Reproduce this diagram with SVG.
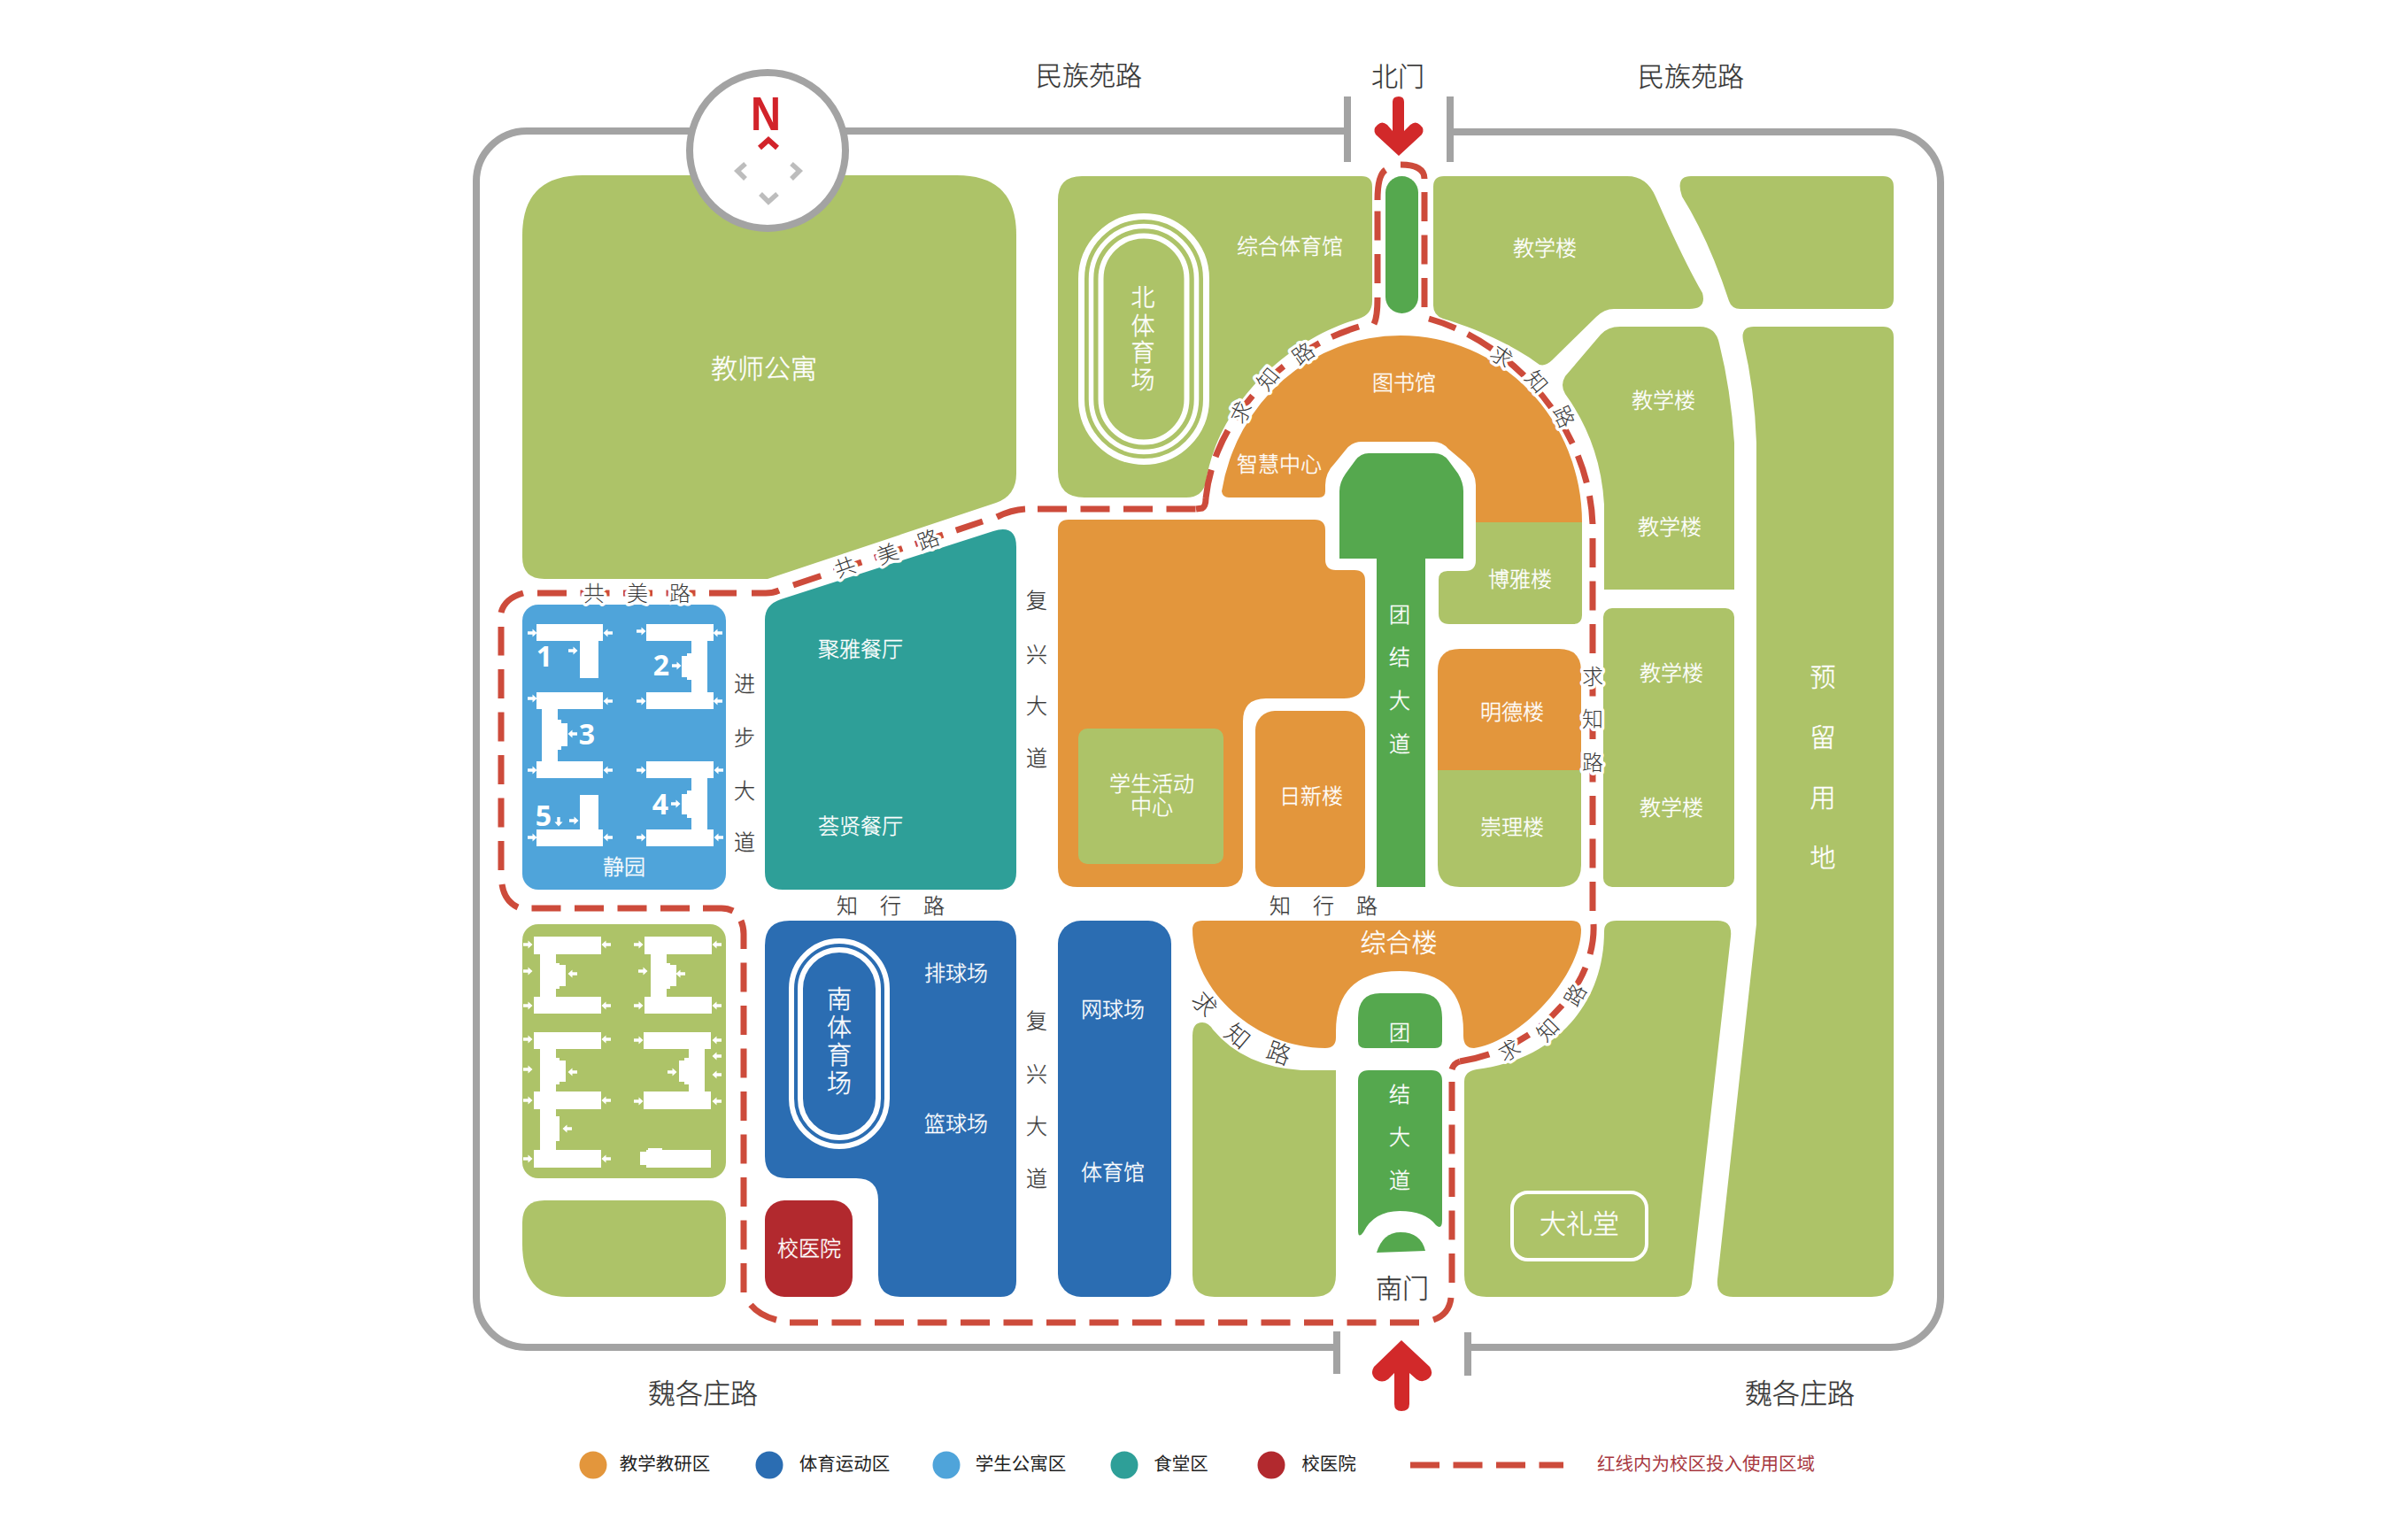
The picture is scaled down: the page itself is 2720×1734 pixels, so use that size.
<svg xmlns="http://www.w3.org/2000/svg" xmlns:xlink="http://www.w3.org/1999/xlink" width="2720" height="1734" viewBox="0 0 2720 1734">
<style>
text{font-family:"Noto Sans CJK SC","Noto Sans",sans-serif;font-weight:300;text-anchor:middle;dominant-baseline:central}
.g{fill:#adc368}.o{fill:#e3963c}.b{fill:#2b6db2}.lb{fill:#4fa4da}.t{fill:#2e9f98}.dg{fill:#55a84e}.r{fill:#b2292e}.w{fill:#fff}
.l{fill:#fff;font-size:24px;stroke:#fff;stroke-width:.35px}.xl{fill:#fff;font-size:29px;stroke:#fff;stroke-width:.35px}
.road{fill:#3a3a3a;font-size:24px;stroke:#3a3a3a;stroke-width:.25px}.halo{fill:#3a3a3a;font-size:24px;paint-order:stroke;stroke:#fff;stroke-width:7px;stroke-linejoin:round}
.big{fill:#333;font-size:30px;stroke:#333;stroke-width:.25px}
.leg{fill:#222;font-size:20.5px;font-weight:400}
.num{fill:#fff;font-family:"Noto Sans",sans-serif;font-weight:700;font-size:32px}
.frame{fill:none;stroke:#a3a3a3;stroke-width:8}
.tick{stroke:#a3a3a3;stroke-width:8;fill:none}
.route,.routes{fill:none;stroke:#cd4b3b;stroke-width:7}
.route{stroke-dasharray:33 15.5}
.ring{fill:none;stroke:#fff}
.chev{fill:none;stroke:#bdbdbd;stroke-width:5.5}
</style>
<defs>
<path id="ar" class="w" d="M-5-1.7H.5V-4.6L5.5 0 .5 4.6V1.7H-5Z"/>
<path id="al" class="w" d="M5-1.7H-.5V-4.6L-5.5 0-.5 4.6V1.7H5Z"/>
<path id="ad" class="w" d="M-1.7-5V.5H-4.6L0 5.5 4.6.5H1.7V-5Z"/>
</defs>
<rect width="2720" height="1734" fill="#fff"/>
<g id="frame">
<path class="frame" d="M1522 148H595A57 57 0 0 0 538 205V1465A57 57 0 0 0 595 1522H1510"/>
<path class="frame" d="M1658 1522H2135A57 57 0 0 0 2192 1465V206A57 57 0 0 0 2135 149H1638"/>
<path class="tick" d="M1522 109V183M1638 109V183M1510 1504V1552M1658 1505V1554"/>
</g>
<g id="teacher-apartments"><path class="g" d="M658 198H1081Q1148 198 1148 265V535Q1148 560 1125 568L867 654H615Q590 654 590 629V266Q590 198 658 198Z"/><text class="l" style="font-size:30px" x="863" y="414">教师公寓</text></g>
<g id="north-gym"><path class="g" d="M1222 199H1538Q1550 199 1550 211V340Q1550 355 1535 360C1450 385 1375 460 1362 545Q1358 562 1340 562H1225Q1195 562 1195 532V226Q1195 199 1222 199Z"/>
<rect class="ring" stroke-width="7" x="1221.5" y="244.5" width="141" height="277" rx="70.5"/><rect class="ring" stroke-width="5.5" x="1232.5" y="255.5" width="119" height="255" rx="59.5"/><rect class="ring" stroke-width="6" x="1243.5" y="266.5" width="97" height="233" rx="48.5"/>
<text class="l" style="font-size:27px" x="1291" y="334">北</text><text class="l" style="font-size:27px" x="1291" y="366">体</text><text class="l" style="font-size:27px" x="1291" y="396">育</text><text class="l" style="font-size:27px" x="1291" y="427">场</text>
<text class="l" x="1457" y="276">综合体育馆</text></g>
<g id="north-pill"><rect class="dg" x="1565" y="199" width="37" height="155" rx="18.5"/></g>
<g id="library"><path class="o" d="M1380 555Q1381 562 1388 562H1490Q1497 562 1497 555V548Q1497 534 1508 523L1521 507Q1528 499 1538 499H1619Q1629 499 1636 507L1655 523Q1667 534 1667 548V590H1787A205 211 0 0 0 1582 379A205 211 0 0 0 1380 555Z"/><text class="l" x="1586" y="430">图书馆</text><text class="l" x="1445" y="522">智慧中心</text></g>
<g id="boya"><path class="g" d="M1667 590H1787V695Q1787 705 1777 705H1637Q1625 705 1625 693V655Q1625 645 1635 645H1655Q1667 645 1667 633Z"/><text class="l" x="1717" y="652">博雅楼</text></g>
<g id="mingde"><path class="o" d="M1649 733H1761Q1786 733 1786 758V870H1624V758Q1624 733 1649 733Z"/><text class="l" x="1708" y="802">明德楼</text></g>
<g id="chongli"><path class="g" d="M1624 870H1786V977Q1786 1002 1761 1002H1649Q1624 1002 1624 977Z"/><text class="l" x="1708" y="932">崇理楼</text></g>
<g id="north-avenue"><path class="dg" d="M1555 1002V631H1513V555Q1513 545 1520 535L1531 520Q1537 512 1546 512H1620Q1630 512 1636 520L1647 535Q1653 545 1653 555V631H1610V1002Z"/><text class="l" x="1581" y="692">团</text><text class="l" x="1581" y="740">结</text><text class="l" x="1581" y="789">大</text><text class="l" x="1581" y="838">道</text></g>
<g id="teach-1"><path class="g" d="M1631 199H1838Q1860 199 1870 222Q1902 295 1923 331Q1928 349 1908 349H1823Q1812 349 1803 358L1753 407Q1746 414 1739 412C1710 390 1665 370 1630 360Q1619 356 1619 345V211Q1619 199 1631 199Z"/><text class="l" x="1745" y="278">教学楼</text></g>
<g id="field-ne"><path class="g" d="M1910 199H2127Q2139 199 2139 211V337Q2139 349 2127 349H1966Q1956 349 1953 340Q1930 270 1900 222Q1892 199 1910 199Z"/></g>
<g id="teach-2"><path class="g" d="M1830 369H1920Q1938 369 1942 388Q1955 440 1959 500V666H1812V570Q1808 500 1768 445Q1762 435 1768 425L1808 378Q1816 369 1830 369Z"/><text class="l" x="1879" y="450">教学楼</text><text class="l" x="1886" y="593">教学楼</text></g>
<g id="teach-3"><rect class="g" x="1811" y="687" width="148" height="315" rx="10"/><text class="l" x="1888" y="758">教学楼</text><text class="l" x="1888" y="910">教学楼</text></g>
<g id="reserve"><path class="g" d="M1981 369H2127Q2139 369 2139 381V1440Q2139 1465 2114 1465H1958Q1938 1465 1940 1445L1984 1044V500Q1982 440 1969 385Q1966 369 1981 369Z"/><text class="xl" x="2059" y="763">预</text><text class="xl" x="2059" y="831">留</text><text class="xl" x="2059" y="899">用</text><text class="xl" x="2059" y="967">地</text></g>
<g id="orange-main"><path class="o" d="M1207 587H1485Q1497 587 1497 599V632Q1497 644 1509 644H1530Q1542 644 1542 656V765Q1542 789 1518 789H1430Q1404 789 1404 815V980Q1404 1002 1382 1002H1217Q1195 1002 1195 980V599Q1195 587 1207 587Z"/></g>
<g id="student-center"><rect class="g" x="1218" y="823" width="164" height="153" rx="10"/><text class="l" x="1301" y="883">学生活动</text><text class="l" x="1301" y="909">中心</text></g>
<g id="rixin"><rect class="o" x="1418" y="803" width="124" height="199" rx="22"/><text class="l" x="1481" y="897">日新楼</text></g>
<g id="composite"><path class="o" d="M1358 1040H1775Q1786 1040 1786 1050C1786 1100 1720 1176 1665 1184Q1653 1184 1653 1170V1165Q1653 1097 1581 1097Q1509 1097 1509 1165V1172Q1509 1184 1497 1184C1420 1184 1347 1120 1347 1050Q1347 1040 1358 1040Z"/><text class="xl" x="1580" y="1063">综合楼</text></g>
<g id="south-avenue-1"><path class="dg" d="M1559 1122H1604Q1629 1122 1629 1150V1176Q1629 1184 1621 1184H1542Q1534 1184 1534 1176V1150Q1534 1122 1559 1122Z"/><text class="l" x="1581" y="1164">团</text></g>
<g id="south-avenue-2"><path class="dg" d="M1546 1209H1617Q1629 1209 1629 1221V1378Q1629 1390 1622 1384Q1610 1368 1581 1368Q1552 1368 1540 1392Q1534 1400 1534 1390V1221Q1534 1209 1546 1209Z"/><text class="l" x="1581" y="1234">结</text><text class="l" x="1581" y="1282">大</text><text class="l" x="1581" y="1331">道</text></g>
<g id="south-dome"><path class="dg" d="M1555 1415Q1562 1392 1582 1392Q1605 1392 1610 1413Z"/></g>
<g id="field-sw"><path class="g" d="M1347 1170Q1347 1155 1358 1155Q1365 1155 1370 1163Q1405 1205 1470 1209H1509V1440Q1509 1465 1484 1465H1372Q1347 1465 1347 1440Z"/></g>
<g id="auditorium"><path class="g" d="M1826 1040H1940Q1957 1040 1955 1058L1911 1450Q1909 1465 1892 1465H1679Q1654 1465 1654 1440V1222Q1654 1210 1668 1208C1750 1198 1812 1140 1812 1052Q1812 1040 1826 1040Z"/><rect x="1708" y="1347" width="152" height="76" rx="18" fill="none" stroke="#fff" stroke-width="4"/><text class="l" style="font-size:30px" x="1784" y="1380">大礼堂</text></g>
<g id="tennis"><rect class="b" x="1195" y="1040" width="128" height="425" rx="26"/><text class="l" x="1257" y="1138">网球场</text><text class="l" x="1257" y="1322">体育馆</text></g>
<g id="south-sports"><path class="b" d="M892 1040H1126Q1148 1040 1148 1062V1447Q1148 1465 1130 1465H1017Q992 1465 992 1440V1356Q992 1331 967 1331H889Q864 1331 864 1306V1068Q864 1040 892 1040Z"/>
<rect class="ring" stroke-width="6" x="894" y="1063" width="108" height="232" rx="54"/><rect class="ring" stroke-width="6" x="904" y="1073" width="88" height="212" rx="44"/>
<text class="l" style="font-size:28px" x="948" y="1127">南</text><text class="l" style="font-size:28px" x="948" y="1159">体</text><text class="l" style="font-size:28px" x="948" y="1190">育</text><text class="l" style="font-size:28px" x="948" y="1222">场</text>
<text class="l" x="1080" y="1097">排球场</text><text class="l" x="1080" y="1267">篮球场</text></g>
<g id="clinic"><rect class="r" x="864" y="1356" width="99" height="109" rx="22"/><text class="l" x="914" y="1408">校医院</text></g>
<g id="canteen"><path class="t" d="M864 700Q864 683 882 677L1122 600Q1148 592 1148 618V985Q1148 1005 1128 1005H884Q864 1005 864 985Z"/><text class="l" x="972" y="731">聚雅餐厅</text><text class="l" x="972" y="931">荟贤餐厅</text></g>
<g id="dorm-blue"><rect class="lb" x="590" y="683" width="230" height="322" rx="18"/>
<path class="w" d="M606 705H681V724H676V766H655V724H606Z"/>
<path class="w" d="M730 705H806V724H799V782H806V801H730V782H781V768H776V765H770V741H776V738H781V724H730Z"/>
<path class="w" d="M606 782H681V801H630V813H634V817H641V843H634V847H630V860H681V879H606V860H612V801H606Z"/>
<path class="w" d="M730 860H806V879H799V937H806V956H730V937H781V924H776V920H770V897H776V893H781V879H730Z"/>
<path class="w" d="M655 898H676V937H681V956H606V937H655Z"/>
<g><use href="#ar" x="601" y="715"/><use href="#ar" x="601" y="789"/><use href="#ar" x="601" y="870"/><use href="#ar" x="601" y="946"/><use href="#ar" x="647" y="735"/><use href="#ar" x="724" y="713"/><use href="#ar" x="724" y="792"/><use href="#ar" x="724" y="870"/><use href="#ar" x="724" y="946"/><use href="#ar" x="764" y="752"/><use href="#ar" x="763" y="908"/><use href="#ar" x="648" y="927"/><use href="#al" x="687" y="715"/><use href="#al" x="687" y="792"/><use href="#al" x="687" y="870"/><use href="#al" x="687" y="946"/><use href="#al" x="811" y="715"/><use href="#al" x="811" y="792"/><use href="#al" x="812" y="870"/><use href="#al" x="812" y="946"/><use href="#al" x="647" y="829"/><use href="#ad" x="631" y="928"/></g>
<text class="num" x="615" y="740">1</text><text class="num" x="747" y="750">2</text><text class="num" x="663" y="828">3</text><text class="num" x="746" y="907">4</text><text class="num" x="614" y="920">5</text>
<text class="l" x="705" y="977">静园</text></g>
<g id="dorm-green"><rect class="g" x="590" y="1044" width="230" height="287" rx="18"/>
<path class="w" d="M603 1058H679V1078H628V1088H632V1090H639V1114H632V1117H628V1126H679V1145H603V1126H610V1078H603Z"/>
<path class="w" d="M728 1058H804V1078H753V1088H757V1090H764V1114H757V1117H753V1126H804V1145H728V1126H735V1078H728Z"/>
<path class="w" d="M603 1166H679V1185H628V1195H632V1198H639V1222H632V1225H628V1233H679V1253H628V1261H632V1289H628V1299H679V1319H603V1299H610V1253H603V1233H610V1185H603Z"/>
<path class="w" d="M727 1166H803V1185H796V1233H803V1253H727V1233H778V1225H773V1222H767V1198H773V1195H778V1185H727Z"/>
<path class="w" d="M730 1299H732V1297H748V1299H803V1319H730V1316H723V1301H730Z"/>
<g><use href="#ar" x="596" y="1067"/><use href="#ar" x="596" y="1097"/><use href="#ar" x="596" y="1136"/><use href="#ar" x="596" y="1174"/><use href="#ar" x="596" y="1208"/><use href="#ar" x="596" y="1243"/><use href="#ar" x="596" y="1309"/><use href="#ar" x="721" y="1067"/><use href="#ar" x="726" y="1097"/><use href="#ar" x="721" y="1136"/><use href="#ar" x="721" y="1175"/><use href="#ar" x="759" y="1211"/><use href="#ar" x="721" y="1244"/><use href="#al" x="685" y="1067"/><use href="#al" x="647" y="1100"/><use href="#al" x="685" y="1136"/><use href="#al" x="810" y="1067"/><use href="#al" x="769" y="1100"/><use href="#al" x="810" y="1136"/><use href="#al" x="685" y="1174"/><use href="#al" x="647" y="1211"/><use href="#al" x="685" y="1243"/><use href="#al" x="641" y="1275"/><use href="#al" x="685" y="1309"/><use href="#al" x="810" y="1175"/><use href="#al" x="810" y="1193"/><use href="#al" x="810" y="1214"/><use href="#al" x="810" y="1244"/></g></g>
<g id="field-south"><path class="g" d="M615 1356H800Q820 1356 820 1376V1445Q820 1465 800 1465H640Q590 1465 590 1405V1381Q590 1356 615 1356Z"/></g>
<g id="connectors">
<path class="route" d="M1603 1494H892"/>
<path class="routes" d="M877 1491Q858 1486 848 1474"/>
<path class="route" d="M840 1460V1076"/>
<path class="routes" d="M840 1072V1055Q840 1047 837 1040"/>
<path class="routes" d="M794 1026H815Q822 1026 828 1029"/>
<path class="route" d="M779 1026H600"/>
<path class="routes" d="M585 1025Q570 1018 567 999"/>
<path class="route" d="M566 983V708"/>
<path class="routes" d="M566 692Q570 676 591 670"/>
<path class="route" d="M607 670H832"/>
<path class="routes" d="M849 670H865Q873 670 880 667"/>
<path class="route" d="M896 661L1110 589"/>
<path class="routes" d="M1126 584Q1142 576 1158 575"/>
<path class="route" d="M1172 575H1351"/>
<path class="routes" d="M1351 575L1358 574Q1362 572 1362 563"/>
<path class="route" pathLength="275.5" d="M1535 369C1450 395 1372 470 1362 563"/>
<path class="routes" d="M1552 366Q1556 358 1556 336"/>
<path class="route" d="M1556 320V238"/>
<path class="routes" d="M1556 226Q1556 198 1565 192"/>
<path class="routes" d="M1582 186Q1609 186 1609 202"/>
<path class="route" d="M1609 217V347"/>
<path class="route" pathLength="324" d="M1614 360C1705 385 1795 480 1799 592"/>
<path class="route" d="M1799 608V1030"/>
<path class="route" pathLength="227" d="M1800 1044C1803 1110 1740 1185 1649 1199"/>
<path class="routes" d="M1649 1199Q1642 1201 1640 1208"/>
<path class="route" d="M1640 1222V1449"/>
<path class="routes" d="M1639 1466Q1637 1485 1619 1491"/>
</g>
<g id="gates">
<path fill="#d2292a" d="M1580 176L1554 152Q1550 146 1556 141Q1561 136 1567 141L1573 148V115Q1573 109 1580 109Q1586 109 1586 115V148L1593 141Q1599 136 1604 141Q1610 146 1606 152Z"/>
<path fill="#d2292a" d="M1583 1514L1552 1544Q1547 1552 1554 1558Q1561 1563 1568 1558L1575 1551V1586Q1575 1594 1583 1594Q1592 1594 1592 1586V1551L1600 1558Q1607 1563 1614 1557Q1620 1552 1615 1544Z"/>
</g>
<g id="compass"><circle cx="867" cy="170" r="88" fill="#fff" stroke="#a3a3a3" stroke-width="8"/>
<text x="865" y="128" fill="#d2232a" textLength="34" lengthAdjust="spacingAndGlyphs" style="font-family:'Liberation Sans',sans-serif;font-weight:700;font-size:54px">N</text>
<path d="M858 167L868 158 878 167" fill="none" stroke="#d2232a" stroke-width="6"/>
<path class="chev" d="M842 185L833 193 842 202M894 185L903 193 894 202M859 219L868 228 878 219"/></g>
<g id="labels">
<text class="big" x="1230" y="83">民族苑路</text><text class="big" x="1910" y="84">民族苑路</text><text class="big" x="1579" y="84">北门</text><text class="big" x="1584" y="1453">南门</text>
<text class="big" x="794" y="1571" style="font-size:31px">魏各庄路</text><text class="big" x="2033" y="1571" style="font-size:31px">魏各庄路</text>
<text class="road" x="1171" y="676">复</text><text class="road" x="1171" y="737">兴</text><text class="road" x="1171" y="795">大</text><text class="road" x="1171" y="854">道</text>
<text class="road" x="1171" y="1151">复</text><text class="road" x="1171" y="1211">兴</text><text class="road" x="1171" y="1270">大</text><text class="road" x="1171" y="1329">道</text>
<text class="road" x="841" y="770">进</text><text class="road" x="841" y="831">步</text><text class="road" x="841" y="891">大</text><text class="road" x="841" y="949">道</text>
<text class="road" x="957" y="1021">知</text><text class="road" x="1006" y="1021">行</text><text class="road" x="1055" y="1021">路</text>
<text class="road" x="1446" y="1021">知</text><text class="road" x="1495" y="1021">行</text><text class="road" x="1544" y="1021">路</text>
<text class="halo" x="671" y="668">共</text><text class="halo" x="720" y="668">美</text><text class="halo" x="768" y="668">路</text>
<text class="halo" x="954" y="639" transform="rotate(-20 954 639)">共</text><text class="halo" x="1002" y="624" transform="rotate(-20 1002 624)">美</text><text class="halo" x="1048" y="608" transform="rotate(-20 1048 608)">路</text>
<text class="halo" x="1400" y="465" transform="rotate(-62 1400 465)">求</text><text class="halo" x="1431" y="427" transform="rotate(-50 1431 427)">知</text><text class="halo" x="1471" y="398" transform="rotate(-35 1471 398)">路</text>
<text class="halo" x="1697" y="401" transform="rotate(35 1697 401)">求</text><text class="halo" x="1737" y="430" transform="rotate(50 1737 430)">知</text><text class="halo" x="1768" y="470" transform="rotate(65 1768 470)">路</text>
<text class="halo" x="1799" y="762">求</text><text class="halo" x="1799" y="810">知</text><text class="halo" x="1799" y="859">路</text>
<text class="halo" style="font-size:27px;stroke-width:3px" x="1362" y="1133" transform="rotate(50 1362 1133)">求</text><text class="halo" style="font-size:27px;stroke-width:3px" x="1399" y="1169" transform="rotate(40 1399 1169)">知</text><text class="halo" style="font-size:27px;stroke-width:3px" x="1445" y="1188" transform="rotate(20 1445 1188)">路</text>
<text class="halo" x="1704" y="1185" transform="rotate(-30 1704 1185)">求</text><text class="halo" x="1747" y="1162" transform="rotate(-45 1747 1162)">知</text><text class="halo" x="1778" y="1123" transform="rotate(-60 1778 1123)">路</text>
</g>
<g id="legend">
<circle class="o" cx="670" cy="1655" r="15.5"/><text class="leg" x="751" y="1652">教学教研区</text>
<circle class="b" cx="869" cy="1655" r="15.5"/><text class="leg" x="954" y="1652">体育运动区</text>
<circle class="lb" cx="1069" cy="1655" r="15.5"/><text class="leg" x="1153" y="1652">学生公寓区</text>
<circle class="t" cx="1270" cy="1655" r="15.5"/><text class="leg" x="1334" y="1652">食堂区</text>
<circle class="r" cx="1436" cy="1655" r="15.5"/><text class="leg" x="1501" y="1652">校医院</text>
<path d="M1593 1655H1766" fill="none" stroke="#cd4b3b" stroke-width="7" stroke-dasharray="33 15.5"/>
<text class="leg" style="fill:#a8383f" x="1927" y="1652">红线内为校区投入使用区域</text>
</g>
</svg>
